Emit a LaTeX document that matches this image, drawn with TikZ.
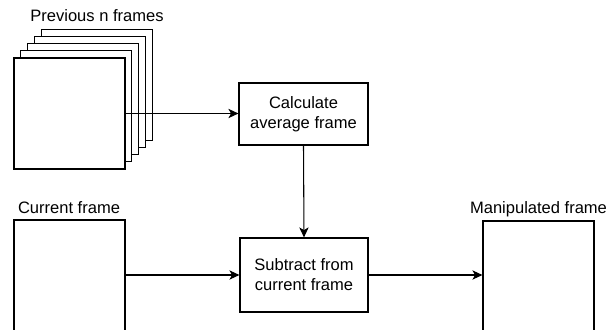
\documentclass[tikz,border=0pt]{standalone}
\usepackage{fontspec}
\setmainfont{Liberation Sans}
\usetikzlibrary{arrows.meta}

\tikzset{
  framebox/.style={draw, fill=white, line width=0.9pt, inner sep=0pt,
    minimum width=83.25pt, minimum height=83.25pt},
  stepbox/.style={draw, fill=white, line width=0.9pt, align=center,
    font=\fontsize{12.4}{15}\selectfont},
  lbl/.style={anchor=base, font=\fontsize{12.4}{15}\selectfont},
  flow/.style={line width=0.8pt, -{Stealth[length=7.5pt, width=7pt, inset=2pt]}}
}

\begin{document}
\begin{tikzpicture}[x=0.75pt, y=-0.75pt]
\useasboundingbox (0,0) rectangle (607,329);
\clip (0,0) rectangle (607,329);
% stack of previous frames, back to front
\foreach \i in {4,3,2,1,0}
  \node[framebox] (frame\i) at ({69.5+6.8*\i},{113.5-7.2*\i}) {};
\node[lbl] (prevlbl) at (97,21.5) {Previous n frames};

\node[stepbox, minimum width=96.75pt, minimum height=46.5pt] (calc) at (303.5,114) {Calculate\\average frame};
\node[stepbox, minimum width=96pt, minimum height=55.5pt] (sub) at (304,275) {Subtract from\\current frame};

\node[framebox, minimum height=97.5pt] (cur) at (69.5,285) {};
\node[lbl] (curlbl) at (69,213) {Current frame};

\node[framebox, minimum height=97.5pt] (out) at (538.5,286) {};
\node[lbl] (outlbl) at (538.5,213) {Manipulated frame};

\draw[flow] (frame0.east) -- (frame0.east -| calc.west);
\draw[flow] (calc.south) -- (sub.north);
\draw[flow] (sub.west -| cur.east) -- (sub.west);
\draw[flow] (sub.east) -- (sub.east -| out.west);
\end{tikzpicture}
\end{document}
